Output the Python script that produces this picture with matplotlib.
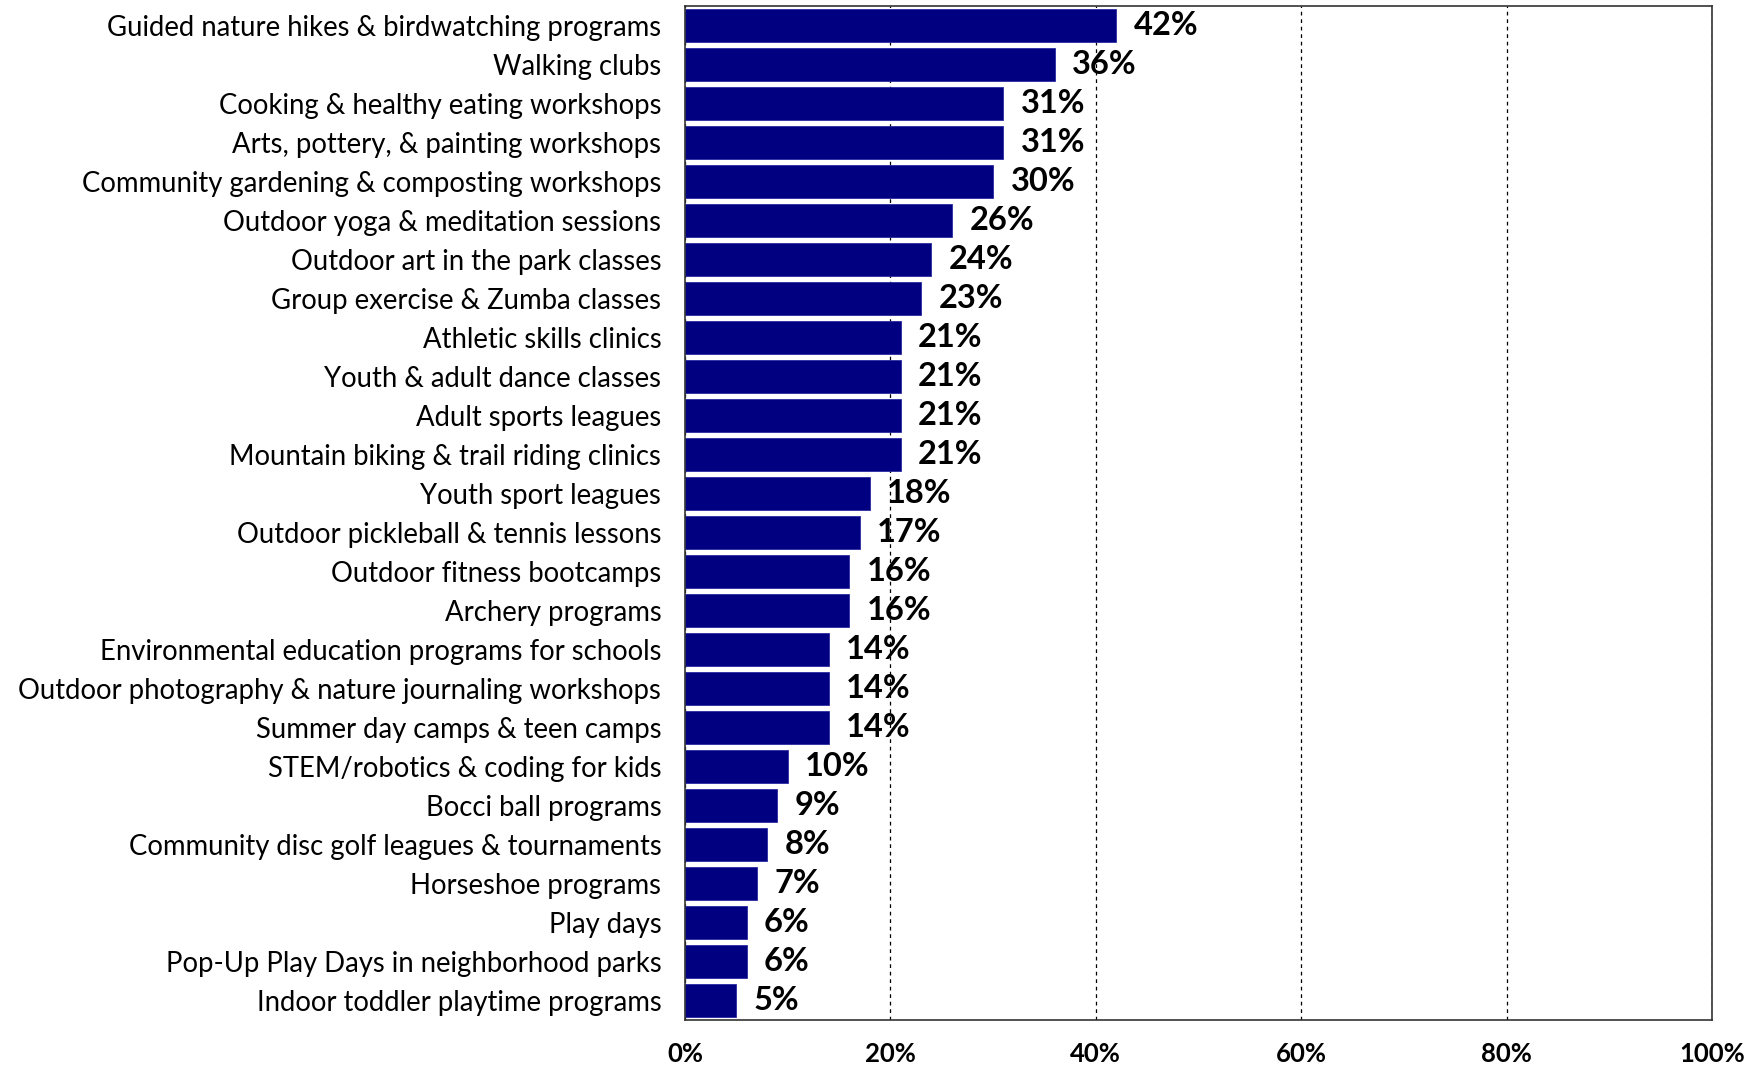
import matplotlib
matplotlib.use("Agg")
import matplotlib.pyplot as plt
from matplotlib.ticker import FuncFormatter

programs = [
    "Guided nature hikes & birdwatching programs",
    "Walking clubs",
    "Cooking & healthy eating workshops",
    "Arts, pottery, & painting workshops",
    "Community gardening & composting workshops",
    "Outdoor yoga & meditation sessions",
    "Outdoor art in the park classes",
    "Group exercise & Zumba classes",
    "Athletic skills clinics",
    "Youth & adult dance classes",
    "Adult sports leagues",
    "Mountain biking & trail riding clinics",
    "Youth sport leagues",
    "Outdoor pickleball & tennis lessons",
    "Outdoor fitness bootcamps",
    "Archery programs",
    "Environmental education programs for schools",
    "Outdoor photography & nature journaling workshops",
    "Summer day camps & teen camps",
    "STEM/robotics & coding for kids",
    "Bocci ball programs",
    "Community disc golf leagues & tournaments",
    "Horseshoe programs",
    "Play days",
    "Pop-Up Play Days in neighborhood parks",
    "Indoor toddler playtime programs",
]
pct = [42, 36, 31, 31, 30, 26, 24, 23, 21, 21, 21, 21, 18, 17, 16, 16,
       14, 14, 14, 10, 9, 8, 7, 6, 6, 5]
xticks = [0, 20, 40, 60, 80, 100]

plt.rcParams["font.family"] = ["Lato", "DejaVu Sans"]

fig = plt.figure(figsize=(17.55, 10.67), dpi=100)
ax = fig.add_axes([0.3903, 0.044, 0.5852, 0.9504])

ypos = list(range(len(programs)))
ax.barh(ypos, pct, height=0.83, color="#000080", edgecolor="#2a2aa0",
        linewidth=0.6, zorder=2)

for y, v in zip(ypos, pct):
    ax.text(v + 1.7, y, f"{v}%", va="center", ha="left",
            fontsize=23.5, fontweight="bold", color="black", zorder=3)

ax.set_xlim(0, 100)
ax.set_ylim(len(programs) - 0.5, -0.5)
ax.set_xticks(xticks)
ax.xaxis.set_major_formatter(FuncFormatter(lambda v, p: f"{v:.0f}%"))
ax.set_yticks(ypos)
ax.set_yticklabels(programs, fontsize=19.8)

ax.tick_params(axis="x", length=0, pad=16, labelsize=18.5)
ax.tick_params(axis="y", length=0, pad=17)
for lab in ax.get_xticklabels():
    lab.set_fontweight("bold")

ax.grid(axis="x", color="black", linestyle=(0, (3, 3)), linewidth=0.9, zorder=1)
ax.grid(axis="y", visible=False)
for s in ax.spines.values():
    s.set_color("#333333")
    s.set_linewidth(1.2)

fig.savefig("out.png", dpi=100)
